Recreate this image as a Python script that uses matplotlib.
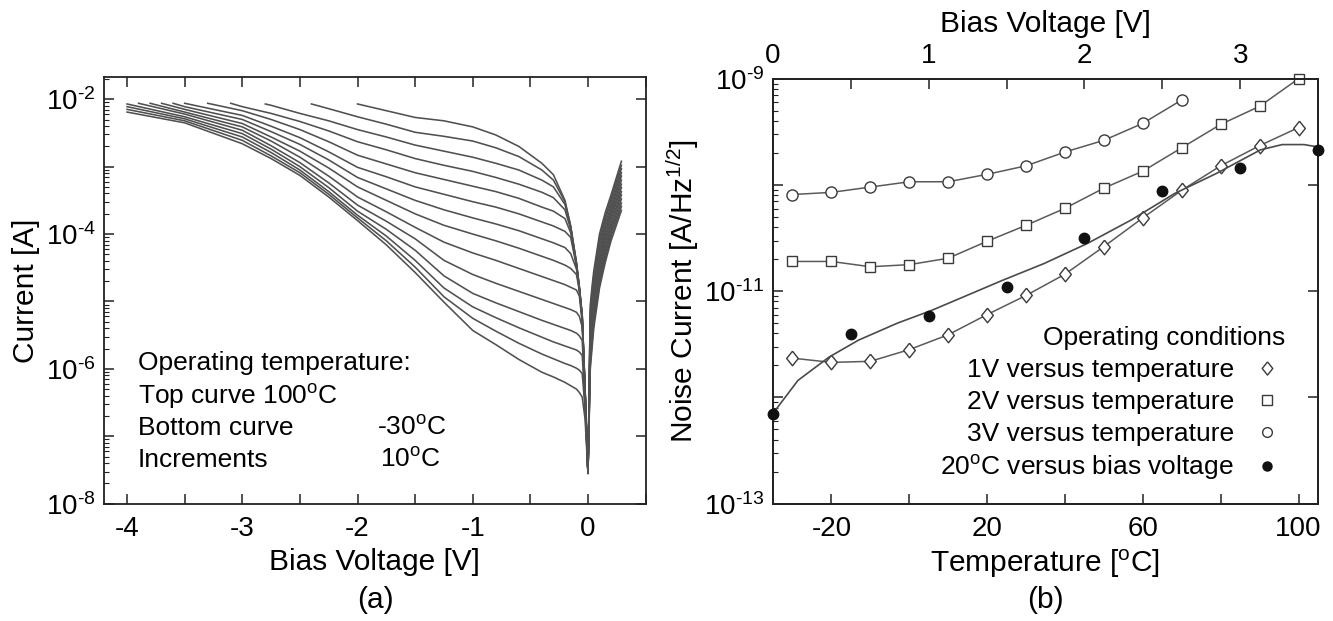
import numpy as np
import matplotlib
matplotlib.use('Agg')
import matplotlib.pyplot as plt
from matplotlib.lines import Line2D
from matplotlib.ticker import LogLocator, NullFormatter

plt.rcParams['font.family'] = ['Liberation Sans', 'DejaVu Sans']
plt.rcParams['mathtext.fontset'] = 'custom'
plt.rcParams['mathtext.rm'] = 'Liberation Sans'
plt.rcParams['mathtext.it'] = 'Liberation Sans:italic'
plt.rcParams['axes.unicode_minus'] = False

# ---------------- (a) I-V curves, 100C (top) ... -30C (bottom) ----------------
temps_a = [100, 90, 80, 70, 60, 50, 40, 30, 20, 10, 0, -10, -20, -30]
start_v = [-2.0, -2.4, -2.8, -3.1, -3.3, -3.5, -3.6, -3.7, -3.8, -3.9, -4.0, -4.0, -4.0, -4.0]
start_log_i = [-2.07, -2.07, -2.07, -2.06, -2.06, -2.06, -2.06, -2.06, -2.06, -2.06, -2.07, -2.11, -2.15, -2.19]
bias_grid = [-3.5, -3.0, -2.75, -2.5, -2.25, -2.0, -1.75, -1.5, -1.25, -1.0, -0.8, -0.6, -0.4,
             -0.3, -0.2, -0.15, -0.1, -0.075, -0.05, -0.025, 0.0, 0.02, 0.035, 0.05, 0.1,
             0.15, 0.2, 0.29]
N = np.nan
# log10(current) on bias_grid, one row per temperature (100C first)
log_current = [
    [N, N, N, N, N, N, -2.17, -2.27, -2.32, -2.41, -2.53, -2.70, -2.95, -3.12, -3.50, -3.88, -4.42, -4.78, -5.20, -6.30, -7.55, -5.05, -4.78, -4.55, -4.00, -3.68, -3.42, -2.92],
    [N, N, N, N, -2.14, -2.26, -2.37, -2.49, -2.55, -2.62, -2.72, -2.85, -3.05, -3.20, -3.52, -3.89, -4.43, -4.79, -5.21, -6.31, -7.55, -5.12, -4.85, -4.62, -4.06, -3.74, -3.47, -2.98],
    [N, N, -2.09, -2.21, -2.32, -2.45, -2.56, -2.68, -2.77, -2.86, -2.95, -3.05, -3.20, -3.30, -3.56, -3.90, -4.44, -4.79, -5.22, -6.32, -7.55, -5.20, -4.92, -4.68, -4.12, -3.79, -3.52, -3.03],
    [N, -2.11, -2.21, -2.33, -2.47, -2.63, -2.75, -2.88, -2.98, -3.07, -3.16, -3.26, -3.38, -3.46, -3.64, -3.93, -4.45, -4.80, -5.23, -6.33, -7.55, -5.27, -4.99, -4.75, -4.18, -3.85, -3.58, -3.09],
    [N, -2.17, -2.30, -2.45, -2.63, -2.83, -2.96, -3.09, -3.19, -3.29, -3.37, -3.47, -3.60, -3.66, -3.77, -3.98, -4.46, -4.80, -5.24, -6.34, -7.55, -5.34, -5.06, -4.81, -4.25, -3.91, -3.63, -3.14],
    [N, -2.24, -2.40, -2.57, -2.78, -3.01, -3.15, -3.30, -3.41, -3.52, -3.60, -3.70, -3.82, -3.88, -3.96, -4.05, -4.48, -4.81, -5.25, -6.35, -7.55, -5.42, -5.13, -4.88, -4.31, -3.96, -3.68, -3.20],
    [-2.11, -2.30, -2.48, -2.67, -2.90, -3.16, -3.33, -3.50, -3.64, -3.76, -3.85, -3.95, -4.07, -4.13, -4.20, -4.29, -4.52, -4.82, -5.26, -6.36, -7.55, -5.49, -5.20, -4.94, -4.37, -4.02, -3.73, -3.26],
    [-2.15, -2.36, -2.56, -2.77, -3.02, -3.30, -3.50, -3.70, -3.87, -4.00, -4.10, -4.21, -4.33, -4.39, -4.46, -4.51, -4.60, -4.84, -5.28, -6.37, -7.55, -5.56, -5.27, -5.01, -4.43, -4.07, -3.78, -3.31],
    [-2.19, -2.41, -2.62, -2.86, -3.14, -3.45, -3.67, -3.90, -4.12, -4.28, -4.39, -4.51, -4.63, -4.69, -4.75, -4.79, -4.83, -4.92, -5.30, -6.38, -7.55, -5.63, -5.34, -5.07, -4.49, -4.13, -3.84, -3.37],
    [-2.22, -2.46, -2.69, -2.94, -3.24, -3.57, -3.81, -4.07, -4.39, -4.60, -4.73, -4.85, -4.97, -5.03, -5.09, -5.12, -5.16, -5.22, -5.38, -6.40, -7.55, -5.71, -5.41, -5.14, -4.55, -4.19, -3.89, -3.42],
    [-2.26, -2.51, -2.74, -3.00, -3.31, -3.66, -3.93, -4.24, -4.62, -4.88, -5.02, -5.15, -5.28, -5.34, -5.40, -5.43, -5.47, -5.51, -5.58, -6.45, -7.55, -5.78, -5.48, -5.20, -4.62, -4.25, -3.94, -3.48],
    [-2.29, -2.56, -2.79, -3.05, -3.37, -3.72, -4.03, -4.39, -4.80, -5.08, -5.24, -5.39, -5.53, -5.60, -5.66, -5.69, -5.72, -5.75, -5.80, -6.52, -7.55, -5.85, -5.55, -5.27, -4.68, -4.30, -3.99, -3.54],
    [-2.32, -2.61, -2.84, -3.09, -3.41, -3.76, -4.10, -4.49, -4.93, -5.25, -5.44, -5.62, -5.78, -5.85, -5.92, -5.95, -5.99, -6.02, -6.07, -6.60, -7.55, -5.93, -5.62, -5.33, -4.74, -4.36, -4.05, -3.59],
    [-2.35, -2.66, -2.88, -3.13, -3.45, -3.80, -4.16, -4.57, -5.01, -5.43, -5.64, -5.86, -6.05, -6.12, -6.20, -6.25, -6.30, -6.35, -6.42, -6.75, -7.55, -6.00, -5.70, -5.40, -4.80, -4.42, -4.10, -3.65],
]

# ---------------- (b) noise current ----------------
temps_b = [-30, -20, -10, 0, 10, 20, 30, 40, 50, 60, 70, 80, 90, 100]
log_noise_1v = [-11.63, -11.67, -11.66, -11.55, -11.41, -11.22, -11.04, -10.84, -10.58, -10.31, -10.05, -9.82, -9.63, -9.46]
log_noise_2v = [-10.72, -10.72, -10.77, -10.75, -10.69, -10.53, -10.38, -10.22, -10.03, -9.87, -9.65, -9.43, -9.26, -9.00]
temps_3v = [-30, -20, -10, 0, 10, 20, 30, 40, 50, 60, 70]
log_noise_3v = [-10.09, -10.07, -10.02, -9.97, -9.97, -9.90, -9.82, -9.69, -9.58, -9.42, -9.20]
bias_b = [0.0, 0.5, 1.0, 1.5, 2.0, 2.5, 3.0, 3.5]
log_noise_bias = [-12.16, -11.40, -11.23, -10.96, -10.50, -10.06, -9.84, -9.67]
fit_bias = [0.0, 0.16, 0.36, 0.55, 0.80, 1.02, 1.47, 1.74, 2.02, 2.30, 2.58, 2.85, 3.13, 3.27, 3.41, 3.49]
fit_log_noise = [-12.15, -11.84, -11.62, -11.46, -11.30, -11.18, -10.90, -10.74, -10.55, -10.33, -10.08, -9.89, -9.67, -9.62, -9.62, -9.64]

W, H = 1333, 621
fig = plt.figure(figsize=(W / 100, H / 100), dpi=100)


def px(x, y):
    return x / W, 1 - y / H


def sup_label(e):
    return r'10$^{\text{-}%d}$' % e


line_col = '#505050'
spine_col = '#222222'
tick_fs = 20
label_fs = 21.5
text_fs = 19
diamond = [(0, 1), (0.8, 0), (0, -1), (-0.8, 0), (0, 1)]


def style_axes(ax):
    for s in ax.spines.values():
        s.set_color(spine_col)
        s.set_linewidth(1.3)
    ax.tick_params(which='both', direction='in', colors=spine_col, labelcolor='black',
                   labelsize=tick_fs)
    ax.tick_params(which='major', length=7, width=1.1)
    ax.tick_params(which='minor', length=3.5, width=0.8)


# ---- panel (a)
axa = fig.add_axes([104 / W, 1 - 503.7 / H, (645.6 - 104) / W, (503.7 - 77) / H])
for k in range(len(temps_a)):
    row = np.array(log_current[k])
    v = np.array(bias_grid)
    keep = ~np.isnan(row) & (v > start_v[k])
    xs = np.concatenate([[start_v[k]], v[keep]])
    ys = np.concatenate([[start_log_i[k]], row[keep]])
    axa.plot(xs, 10.0 ** ys, color=line_col, lw=1.15)

axa.set_yscale('log')
axa.set_xlim(-4.2, 0.5)
axa.set_ylim(1e-8, 10 ** -1.67)
axa.set_xticks(np.arange(-4, 0.51, 0.5))
axa.set_xticklabels(['%d' % t if t == int(t) else '' for t in np.arange(-4, 0.51, 0.5)])
axa.set_yticks([10.0 ** e for e in range(-8, -1)])
axa.set_yticklabels([sup_label(-e) if e % 2 == 0 else '' for e in range(-8, -1)])
axa.yaxis.set_minor_locator(LogLocator(base=10, subs=np.arange(2, 10), numticks=20))
axa.yaxis.set_minor_formatter(NullFormatter())
style_axes(axa)
axa.tick_params(top=True, right=True)
axa.tick_params(axis='x', pad=9)
axa.tick_params(axis='y', pad=6)
axa.set_xlabel('Bias Voltage [V]', fontsize=label_fs, labelpad=4)
axa.set_ylabel('Current [A]', fontsize=label_fs, labelpad=4)
fig.text(*px(375, 600), '(a)', fontsize=label_fs, ha='center', va='center')

deg = r'$^{\rm o}$C'
fig.text(*px(138, 363), 'Operating temperature:', fontsize=text_fs, va='center')
fig.text(*px(138, 397), 'Top curve 100' + deg, fontsize=text_fs, va='center')
fig.text(*px(138, 428), 'Bottom curve', fontsize=text_fs, va='center')
fig.text(*px(377, 428), '-30' + deg, fontsize=text_fs, va='center')
fig.text(*px(138, 460), 'Increments', fontsize=text_fs, va='center')
fig.text(*px(380, 460), '10' + deg, fontsize=text_fs, va='center')

# ---- panel (b)
axb = fig.add_axes([773 / W, 1 - 503.7 / H, (1318 - 773) / W, (503.7 - 78.7) / H])
axb.set_yscale('log')
axb.set_xlim(-35, 105)
axb.set_ylim(1e-13, 1e-9)

mk = dict(mfc='white', mec='#3a3a3a', mew=1.0, color='#5a5a5a', lw=1.1, clip_on=False)
axb.plot(temps_b, 10.0 ** np.array(log_noise_1v), marker=diamond, ms=10.5, **mk)
axb.plot(temps_b, 10.0 ** np.array(log_noise_2v), marker='s', ms=7.5, **mk)
axb.plot(temps_3v, 10.0 ** np.array(log_noise_3v), marker='o', ms=8, **mk)

axb.set_xticks(range(-20, 101, 20))
axb.set_xticklabels(['-20', '', '20', '', '60', '', '100'])
axb.set_yticks([10.0 ** e for e in range(-13, -8)])
axb.set_yticklabels([sup_label(-e) if e % 2 != 0 else '' for e in range(-13, -8)])
axb.yaxis.set_minor_locator(LogLocator(base=10, subs=np.arange(2, 10), numticks=20))
axb.yaxis.set_minor_formatter(NullFormatter())
style_axes(axb)
axb.tick_params(top=False, right=True)
axb.tick_params(axis='x', pad=9)
axb.tick_params(axis='y', pad=6)
axb.set_xlabel('Temperature [' + deg + ']', fontsize=label_fs, labelpad=4)
axb.set_ylabel('Noise Current [A/Hz$^{1/2}$]', fontsize=label_fs, labelpad=2)
fig.text(*px(1045, 600), '(b)', fontsize=label_fs, ha='center', va='center')

axt = axb.twiny()
axt.set_xlim(0, 3.5)
axt.plot(fit_bias, 10.0 ** np.array(fit_log_noise), color='#4a4a4a', lw=1.2)
axt.plot(bias_b, 10.0 ** np.array(log_noise_bias), ls='none', marker='o', ms=7.5,
         color='#111111', clip_on=False, zorder=5)
axt.set_xticks(np.arange(0, 3.51, 0.5))
axt.set_xticklabels(['%d' % t if t == int(t) else '' for t in np.arange(0, 3.51, 0.5)])
style_axes(axt)
axt.tick_params(axis='x', pad=7)
axt.set_xlabel('Bias Voltage [V]', fontsize=label_fs, labelpad=8)

handles = [
    Line2D([], [], ls='none', marker=diamond, ms=9.5, mfc='white', mec='#3a3a3a'),
    Line2D([], [], ls='none', marker='s', ms=6.5, mfc='white', mec='#3a3a3a'),
    Line2D([], [], ls='none', marker='o', ms=7, mfc='white', mec='#3a3a3a'),
    Line2D([], [], ls='none', marker='o', ms=6.5, color='#111111'),
]
labels = ['1V versus temperature', '2V versus temperature', '3V versus temperature',
          '20' + deg + ' versus bias voltage']
axb.legend(handles, labels, loc='lower right', bbox_to_anchor=(0.928, 0.05), frameon=False,
           markerfirst=False, fontsize=text_fs, handlelength=0.9, handletextpad=0.8,
           labelspacing=0.29, borderpad=0, borderaxespad=0)
axb.text(0.94, 0.39, 'Operating conditions', transform=axb.transAxes, ha='right',
         va='center', fontsize=text_fs)

fig.savefig('out.png', dpi=100)
